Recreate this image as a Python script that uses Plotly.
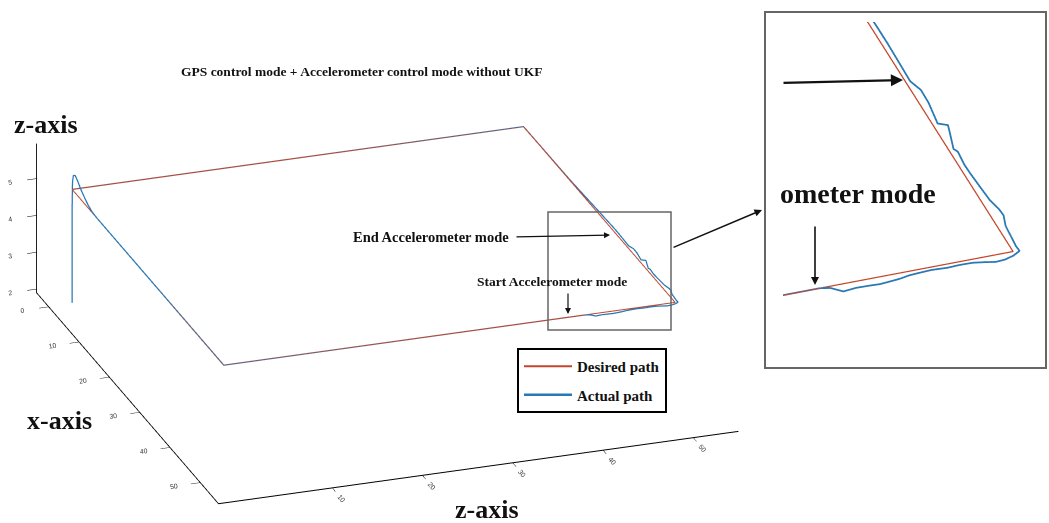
import plotly.graph_objects as go

W, H = 1049, 523

# ---- flight data -------------------------------------------------------
# desired rectangular path flown at constant altitude
des_x = [0, 50, 50, 0, 0]
des_y = [0, 0, 50, 50, 0]
des_z = [5, 5, 5, 5, 5]

# actual path: take-off, overshoot, GPS legs, accelerometer-mode segment
act_x = [0, 0, 0.1, 0.4, 1.0, 1.8, 2.8, 3.9, 5.2, 6.5, 8.0,
         50, 50, 50.15, 50.65, 50.55, 50.58, 50.62, 50.55, 50.48, 50.35, 50.3,
         50.25, 50.32, 50.28, 50.3, 50.45, 50.6, 50.55, 50.35, 50.05,
         49.6, 48.3, 47.7, 46.8, 46.2, 45.3, 44.1, 42.8, 41.9, 40.7, 40.4,
         38.9, 38.3, 38.0, 36.1, 34.9, 34.0, 32.4, 30.5, 28.8, 22, 15, 0, 0]
act_y = [0, 0, 0, 0, 0, 0, 0, 0, 0, 0, 0,
         0, 40.0, 40.5, 41.0, 41.7, 42.4, 42.9, 43.5, 44.0, 44.5, 45.0,
         45.7, 46.5, 47.1, 47.8, 48.4, 48.9, 49.4, 49.9, 50.32,
         50.29, 50.37, 50.41, 50.62, 50.59, 50.43, 50.37, 50.31, 50.29, 50.37, 50.25,
         50.57, 50.69, 50.26, 50.45, 50.47, 50.23, 50.26, 50.29, 50.29, 50.18, 50.05, 50, 0]
act_z = [1.92, 4.6, 5.2, 5.42, 5.47, 5.4, 5.28, 5.18, 5.08, 5.02, 5.0,
         5, 5, 5, 5, 5, 5, 5, 5, 5, 5, 5,
         5, 5, 5, 5, 5, 5, 5, 5, 5,
         5, 5, 5, 5, 5, 5, 5, 5, 5, 5, 5,
         5, 5, 5, 5, 5, 5, 5, 5, 5, 5, 5, 5, 5]

x_ticks = [0, 10, 20, 30, 40, 50]
y_ticks = [10, 20, 30, 40, 50]
z_ticks = [2, 3, 4, 5]

RED = "#C4472C"
BLUE = "#2878B5"
SERIF = "Liberation Serif"


def px(x):
    return x / W


def py(y):
    return 1 - y / H


fig = go.Figure()

for scene, show in (("scene", True), ("scene2", False)):
    fig.add_trace(go.Scatter3d(
        x=act_x, y=act_y, z=act_z, mode="lines", name="Actual path",
        legendgroup="act", legendrank=2,
        line=dict(color=BLUE, width=2.5 if show else 3.5),
        scene=scene, showlegend=show, hoverinfo="skip"))
    fig.add_trace(go.Scatter3d(
        x=des_x, y=des_y, z=des_z, mode="lines", name="Desired path",
        legendgroup="des", legendrank=1,
        line=dict(color=RED, width=2 if show else 2.5),
        scene=scene, showlegend=show, hoverinfo="skip"))


def axis(rng, ticks):
    return dict(range=rng, tickvals=ticks, showbackground=False, showgrid=False,
                zeroline=False, showline=True, linecolor="black", linewidth=2,
                ticks="outside", ticklen=10, tickwidth=1, tickcolor="black",
                tickfont=dict(size=9, color="#333", family="Arial"),
                title=dict(text=""), showspikes=False)


def hidden(rng):
    return dict(range=rng, visible=False, showspikes=False)


e_main = (0.866, -0.300, 0.402)
e_zoom = (0.790, -0.274, 0.547)
L = 2.0
k_main = 2.36           # orthographic zoom of the main view
k_zoom = 4.6 * 356 / 346  # orthographic zoom of the close-up

fig.update_layout(
    width=W, height=H, margin=dict(l=0, r=0, t=0, b=0),
    paper_bgcolor="white", plot_bgcolor="white",
    scene=dict(
        domain=dict(x=[0, 0.739], y=[0.0, 0.9]),
        xaxis=axis([-4, 56], x_ticks),
        yaxis=axis([-2.6, 55], y_ticks),
        zaxis=axis([1.9, 5.95], z_ticks),
        aspectmode="manual",
        aspectratio=dict(x=1 * k_main, y=0.99 * k_main, z=0.293 * k_main),
        camera=dict(eye=dict(x=e_main[0] * L, y=e_main[1] * L, z=e_main[2] * L),
                    up=dict(x=0, y=0, z=1), center=dict(x=0, y=0, z=0),
                    projection=dict(type="orthographic")),
        bgcolor="rgba(0,0,0,0)",
    ),
    scene2=dict(
        domain=dict(x=[783 / W, 1045 / W], y=[py(368), py(22)]),
        xaxis=hidden([23.65, 63.65]),
        yaxis=hidden([27.08, 67.08]),
        zaxis=hidden([4, 6]),
        aspectmode="manual",
        aspectratio=dict(x=k_zoom, y=k_zoom, z=0.05 * k_zoom),
        camera=dict(eye=dict(x=e_zoom[0] * L, y=e_zoom[1] * L, z=e_zoom[2] * L),
                    up=dict(x=0, y=0, z=1), center=dict(x=0, y=0, z=0),
                    projection=dict(type="orthographic")),
        bgcolor="rgba(0,0,0,0)",
    ),
    legend=dict(x=px(517), y=py(348), xanchor="left", yanchor="top",
                bordercolor="black", borderwidth=2, bgcolor="white",
                font=dict(family=SERIF, size=15, color="#111", weight="bold"),
                traceorder="grouped", tracegroupgap=6, itemwidth=48),
    showlegend=True,
)


def label(text, x, y, size, **kw):
    fig.add_annotation(text=text, x=px(x), y=py(y), xref="paper", yref="paper",
                       showarrow=False, font=dict(family=SERIF, size=size, color="#111"),
                       xanchor="center", yanchor="middle", **kw)


def arrow(x0, y0, x1, y1, width=1.2, size=1.0):
    fig.add_annotation(text="", x=px(x1), y=py(y1), xref="paper", yref="paper",
                       ax=x0 - x1, ay=y0 - y1, showarrow=True, arrowhead=2,
                       arrowsize=size, arrowwidth=width, arrowcolor="#111")


label("<b>GPS control mode + Accelerometer control mode without UKF</b>", 361, 71, 13.5)
label("<b>z-axis</b>", 46, 124, 26)
label("<b>x-axis</b>", 59, 420, 26)
label("<b>z-axis</b>", 487, 509, 26)
label("<b>End Accelerometer mode</b>", 431, 237, 14.5)
label("<b>Start Accelerometer mode</b>", 552, 281, 13.5)
label("<b>ometer mode</b>", 858, 193, 28)

arrow(515, 237, 610, 235)
arrow(568, 292, 568, 314)
arrow(672, 248, 762, 210, width=1.5)
arrow(782, 83, 903, 80, width=2.2, size=1.1)
arrow(815, 225, 815, 285, width=1.6)

# zoom box and inset frame
fig.add_shape(type="rect", xref="paper", yref="paper", x0=px(548), x1=px(671),
              y0=py(330), y1=py(212), line=dict(color="#666", width=1.5))
fig.add_shape(type="rect", xref="paper", yref="paper", x0=px(765), x1=px(1046),
              y0=py(368), y1=py(12), line=dict(color="#666", width=2))

fig.write_html("out.html")
